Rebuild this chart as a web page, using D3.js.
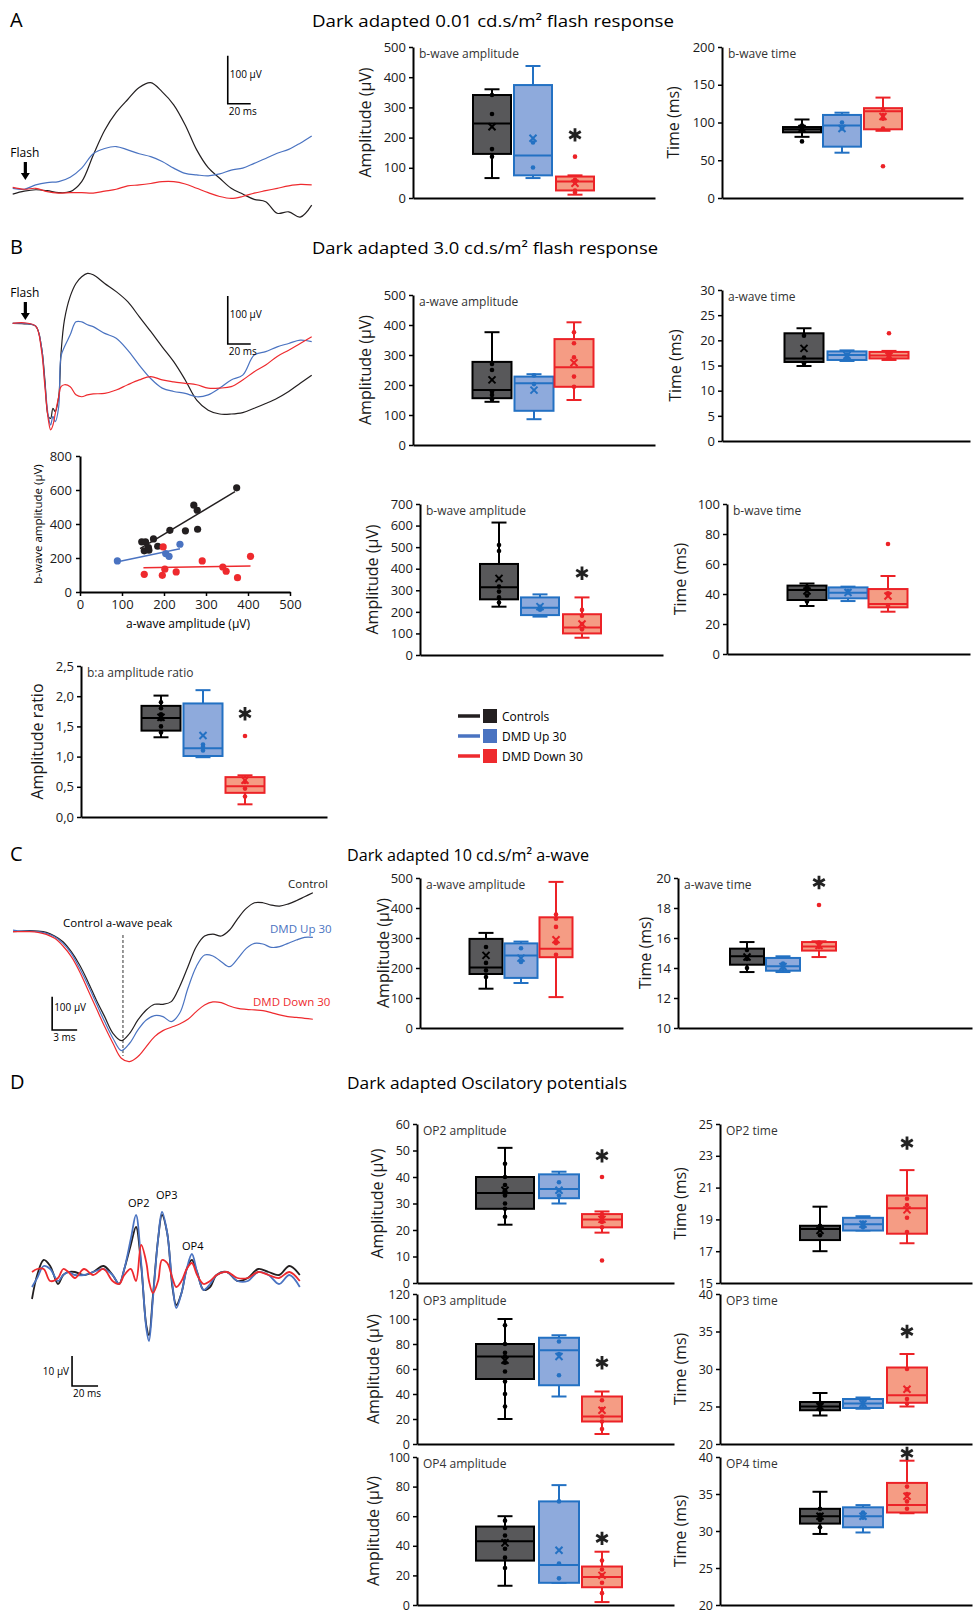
<!DOCTYPE html>
<html>
<head>
<meta charset="utf-8">
<script src="https://cdn.jsdelivr.net/npm/d3@7"></script>
<style>
  body { margin: 0; background: #fff; }
  text { font-family: 'Open Sans', sans-serif; }
</style>
</head>
<body>
<svg id="fig" width="973" height="1612"></svg>
<script>
// ---------- data ----------
const groups = ["Controls", "DMD Up 30", "DMD Down 30"];

// A: 0.01 cd.s/m2 traces (ms, µV)
const aTime = [0,10,20,30,40,50,60,70,80,90,100,110,120,130,140,150,160,170,180,190,200,210,220,230,240,250,260];
const aCtrl = [-12,-6,-3,-5,-9,-7,14,69,121,158,185,210,220,201,174,132,80,43,21,0,-12,-23,-28,-52,-49,-60,-35];
const aUp   = [0,-2,7,12,14,23,42,72,83,87,80,72,66,56,42,31,28,26,30,38,42,52,62,73,81,94,109];
const aDown = [2,-2,0,-7,-10,-9,-9,-10,-6,-2,5,7,10,14,14,9,0,-9,-17,-21,-17,-10,-5,0,5,8,7];

// B: 3.0 cd.s/m2 traces (ms, µV)
const bTime = [0,10,20,25,28,31,33,35,37,40,42,45,50,55,60,65,70,80,90,100,110,120,130,140,150,160,170,180,190,200,210,220,230,240,250,260];
const bCtrl = [0,-1,-6,-49,-118,-194,-198,-177,-184,-153,-63,7,56,83,97,104,101,83,66,45,14,-17,-49,-80,-118,-160,-181,-189,-189,-186,-177,-167,-156,-142,-125,-108];
const bUp   = [0,0,-6,-49,-125,-194,-212,-194,-205,-174,-69,-49,-24,3,3,-3,-7,-21,-31,-56,-87,-115,-135,-142,-146,-153,-149,-135,-118,-108,-66,-59,-49,-42,-35,-38];
const bDown = [0,1,-6,-56,-132,-201,-222,-212,-188,-153,-132,-128,-132,-149,-153,-149,-147,-146,-139,-128,-118,-111,-118,-122,-125,-128,-135,-135,-132,-118,-101,-87,-69,-56,-42,-28];

// C: 10 cd.s/m2 a-wave traces (ms, µV)
const cTime = [0,1,2,3,4,5,6,7,8,9,10,11,12,13,14,15,16,17,18,19,20,21,22,23,24,25,26,27,28,29,30,31,32,33,34,35,36];
const cCtrl = [0,2,3,2,-2,-13,-30,-60,-100,-150,-205,-255,-305,-327,-305,-265,-235,-218,-218,-210,-165,-105,-45,-13,-7,-13,5,40,70,87,87,80,77,83,93,105,117];
const cUp   = [5,2,2,0,-5,-15,-35,-65,-110,-160,-215,-270,-320,-357,-335,-295,-265,-252,-255,-270,-245,-170,-105,-70,-73,-90,-105,-80,-50,-35,-37,-47,-45,-35,-25,-17,-17];
const cDown = [0,0,0,-2,-8,-20,-43,-75,-120,-175,-230,-285,-335,-380,-390,-375,-345,-315,-297,-287,-277,-263,-240,-220,-211,-213,-223,-230,-233,-235,-237,-243,-250,-255,-257,-260,-263];
const cPeakTime = 13.2;

// D: oscillatory potentials (ms, µV)
const dTime = [0,4,9,14,20,24,28,33,40,47,55,62,67,71,76,80,84,88,90,93,97,100,104,108,111,115,119,123,127,132,137,142,150,158,166,174,182,190,198,206];
const dCtrl = [-8,0,5,3,-3,0,1,1,0,1,3,0,-3,2,10,16,3,-17,-20,-7,12,20,14,-4,-10,-6,2,5,1,-5,-4,0,1,-2,-1,2,1,0,3,0];
const dUp   = [-4,-1,3,2,-2,0,1,0,0,1,2,0,-3,2,12,20,4,-18,-22,-8,12,21,14,-3,-11,-6,2,7,1,-5,-3,0,1,-2,-2,1,0,-3,0,-4];
const dDown = [1,2,2,-2,-1,2,1,-1,2,0,2,-2,-3,0,2,-2,10,4,-2,-6,-2,5,4,-1,-4,-2,2,4,0,-3,-2,0,1,-1,-1,1,0,-1,1,-2];

// box stats per group: [min, q1, median, q3, max]
const aAmpBox = [[66,146,247,341,360],[66,75,141,374,437],[11,25,55,71,75]];
const aAmpMean = [236,198,49];
const aAmpPts = [[341,278,162,137],[184,101],[60,52,25,18]];
const aAmpOut = [[],[],[137]];
const aAmpTicks = [0,100,200,300,400,500];

const aTimeBox = [[81,87,91,94,104],[60,68,96,110,113],[89,91,115,119,133]];
const aTimeMean = [92,92,108];
const aTimePts = [[96,93,90],[100,92],[117,110,105,92]];
const aTimeOut = [[75],[],[42]];
const aTimeTicks = [0,50,100,150,200];

const bAAmpBox = [[144,156,183,277,376],[86,114,206,228,236],[150,194,259,353,409]];
const bAAmpMean = [217,183,274];
const bAAmpPts = [[270,250,178,167,152],[232,203],[376,339,292,228,194]];
const bAAmpOut = [[],[],[]];

const bATimeBox = [[14.9,15.7,16.4,21.4,22.4],[15.9,16.1,17.1,17.8,18.0],[16.1,16.4,17.0,17.7,17.9]];
const bATimeMean = [18.4,17.0,16.9];
const bATimePts = [[20.9,16.6,15.4],[17.2,16.6],[17.4,16.8]];
const bATimeOut = [[],[],[21.4]];
const bATimeTicks = [0,5,10,15,20,25,30];

const bBAmpBox = [[224,258,314,422,614],[178,185,219,267,281],[80,100,128,189,267]];
const bBAmpMean = [355,224,144];
const bBAmpPts = [[510,482,317,294,267,243],[224,210],[209,182,144,119]];
const bBAmpOut = [[],[],[]];
const bBAmpTicks = [0,100,200,300,400,500,600,700];

const bBTimeBox = [[32,36,42.7,45.6,47],[35.3,37.1,40.9,44.4,44.9],[28.2,31.1,33.3,43.3,52]];
const bBTimeMean = [42,41,38.7];
const bBTimePts = [[45,43.8,39,35],[42,41],[40.4,32]];
const bBTimeOut = [[],[],[73.3]];
const bBTimeTicks = [0,20,40,60,80,100];

const ratioBox = [[1.32,1.43,1.64,1.84,2.01],[0.99,1.01,1.14,1.88,2.10],[0.21,0.40,0.51,0.66,0.69]];
const ratioMean = [1.65,1.35,0.61];
const ratioPts = [[1.9,1.8,1.7,1.62,1.5,1.4],[1.2,1.16,1.1],[0.58,0.47,0.34]];
const ratioOut = [[],[],[1.34]];
const ratioTicks = [0,0.5,1,1.5,2,2.5];

const cAmpBox = [[131,180,202,297,317],[150,167,242,282,288],[103,236,264,369,487]];
const cAmpMean = [242,233,294];
const cAmpPts = [[270,217,192,170],[266,220],[378,364,337,283,244]];
const cAmpOut = [[],[],[]];

const cTimeBox = [[13.73,14.22,14.78,15.29,15.73],[13.73,13.82,14.11,14.67,14.78],[14.73,15.16,15.44,15.73,15.78]];
const cTimeMean = [14.73,14.1,15.5];
const cTimePts = [[15.2,14.6,14.0],[14.3,14.0],[15.7,15.4]];
const cTimeOut = [[],[],[18.2]];
const cTimeTicks = [10,12,14,16,18,20];

const op2AmpBox = [[22,28,34,40,51],[30,32,35.5,41,42],[19,21,24,26,27]];
const op2AmpMean = [35,35,24];
const op2AmpPts = [[45,40,37,35,33,30,28,25],[38,35,33],[26,25,23,21]];
const op2AmpOut = [[],[],[40,8.5]];
const op2AmpTicks = [0,10,20,30,40,50,60];

const op2TimeBox = [[17.0,17.7,18.4,18.6,19.8],[18.3,18.3,18.7,19.1,19.2],[17.5,18.1,19.7,20.5,22.1]];
const op2TimeMean = [18.3,18.7,19.6];
const op2TimePts = [[18.6,18.4,18.0],[18.8,18.5],[20.3,19.9,19.1,18.2]];
const op2TimeOut = [[],[],[]];
const op2TimeTicks = [15,17,19,21,23,25];

const op3AmpBox = [[20,52,70,80,100],[38,47,75,85,87],[8,18,22,38,42]];
const op3AmpMean = [67,70,27];
const op3AmpPts = [[95,80,73,70,65,58,50,40,30],[82,72,55],[35,28,22,18,12]];
const op3AmpOut = [[],[],[]];
const op3AmpTicks = [0,20,40,60,80,100,120];

const op3TimeBox = [[23.8,24.5,25,25.6,26.8],[24.7,24.8,25.4,26.0,26.2],[25.0,25.5,26.5,30.2,32]];
const op3TimeMean = [25,25.4,27.3];
const op3TimePts = [[25.5,25.0,24.6],[25.6,25.2],[30,27.3,26,25.4]];
const op3TimeOut = [[],[],[]];
const opTimeTicks = [20,25,30,35,40];

const op4AmpBox = [[13,30,43,53,60],[15,15,27,70,81],[2,12,19,26,36]];
const op4AmpMean = [42,37,20];
const op4AmpPts = [[57,52,47,43,38,32,25],[70,28,18],[30,24,20,15,8]];
const op4AmpOut = [[],[],[]];
const op4AmpTicks = [0,20,40,60,80,100];

const op4TimeBox = [[29.6,31,32,33,35.3],[29.8,30.5,32,33.2,33.5],[32.4,32.5,33.5,36.5,39.5]];
const op4TimeMean = [32,32,34.7];
const op4TimePts = [[33,32.2,31.5,30.5],[32.5,31.8],[36,35,34,33]];
const op4TimeOut = [[],[],[]];

// scatter: [a-wave, b-wave] µV
const scCtrl = [[147,295],[156,295],[153,242],[164,246],[175,312],[185,269],[214,363],[251,360],[271,511],[279,481],[280,369],[373,613],[163,261]];
const scUp   = [[89,183],[204,226],[212,210],[238,281]];
const scDown = [[153,104],[198,265],[202,134],[196,98],[229,118],[291,183],[340,147],[348,122],[375,84],[406,210]];
const fitCtrl = [[143,255],[369,590]];
const fitUp   = [[87,177],[238,255]];
const fitDown = [[151,143],[406,153]];
const scTicksX = [0,100,200,300,400,500];
const scTicksY = [0,200,400,600,800];

// ---------- styles ----------
const lineCol = ["#231f20", "#4a73c1", "#ee2a2e"];
const boxFill = ["#58585a", "#8eaadc", "#f59c84"];
const boxLine = ["#000000", "#2371c3", "#ec2227"];
const FONT = "'Open Sans', sans-serif";

const svg = d3.select("#fig");

function styleAxis(a, fs) {
  a.select(".domain").attr("stroke", "#000").attr("stroke-width", 2);
  a.selectAll(".tick line").attr("stroke", "#000").attr("stroke-width", 1.5);
  a.selectAll(".tick text").attr("font-family", FONT).attr("font-size", fs || 13).attr("fill", "#1a1a1a");
}

function boxChart(c) {
  const g = svg.append("g");
  const y = d3.scaleLinear().domain([c.ticks[0], c.ticks[c.ticks.length - 1]]).range([c.yb, c.yt]);
  const xr = d3.scaleLinear().domain([0, 1]).range([c.ax, c.ar]);
  const xc = d3.scaleOrdinal(groups, c.cx);
  const bw = Array.isArray(c.bw) ? c.bw : [c.bw, c.bw, c.bw];

  const yax = g.append("g").attr("transform", `translate(${c.ax},0)`)
    .call(d3.axisLeft(y).tickValues(c.ticks).tickSize(4).tickSizeOuter(0).tickPadding(3).tickFormat(c.fmt || d3.format("d")));
  styleAxis(yax, c.fs);
  const xax = g.append("g").attr("transform", `translate(0,${c.yb})`)
    .call(d3.axisBottom(xr).tickValues([]).tickSizeOuter(0));
  styleAxis(xax);

  g.append("text")
    .attr("transform", `translate(${c.ax - c.lo + 6},${(c.yt + c.yb) / 2}) rotate(-90)`)
    .attr("text-anchor", "middle").attr("font-size", 16).attr("fill", "#1a1a1a")
    .text(c.ylab);
  g.append("text").attr("x", c.ax + 6).attr("y", c.yt + 11)
    .attr("font-size", 12).attr("fill", "#333").text(c.title);

  c.box.forEach((s, i) => {
    const cx = xc(groups[i]), w = bw[i], cap = 15;
    const bg = g.append("g").attr("stroke", boxLine[i]).attr("stroke-width", 2);
    bg.append("line").attr("x1", cx).attr("x2", cx).attr("y1", y(s[0])).attr("y2", y(s[4]));
    [s[0], s[4]].forEach(v => bg.append("line")
      .attr("x1", cx - cap / 2).attr("x2", cx + cap / 2).attr("y1", y(v)).attr("y2", y(v)));
    bg.append("rect").attr("x", cx - w / 2).attr("y", y(s[3]))
      .attr("width", w).attr("height", Math.max(1, y(s[1]) - y(s[3])))
      .attr("fill", boxFill[i]);
    bg.append("line").attr("x1", cx - w / 2).attr("x2", cx + w / 2)
      .attr("y1", y(s[2])).attr("y2", y(s[2]));

    g.selectAll(null).data(c.pts[i].concat(c.out[i])).join("circle")
      .attr("cx", cx).attr("cy", d => y(d)).attr("r", 2.3)
      .attr("fill", boxLine[i]);
    g.append("path")
      .attr("d", d3.symbol(d3.symbolX || d3.symbolCross, 34)())
      .attr("transform", `translate(${cx},${y(c.mean[i])})`)
      .attr("fill", "none").attr("stroke", boxLine[i]).attr("stroke-width", 2);
  });

  if (c.star != null) {
    g.append("path")
      .attr("d", d3.symbol(d3.symbolAsterisk || d3.symbolCross, 125)())
      .attr("transform", `translate(${xc(groups[2])},${y(c.star)})`)
      .attr("fill", "none").attr("stroke", "#222").attr("stroke-width", 2.8);
  }
}

function traces(times, series, xs, ys, sw) {
  const line = d3.line().x((d, i) => xs(times[i])).y(d => ys(d)).curve(d3.curveCatmullRom.alpha(0.5));
  series.forEach((s, i) => {
    svg.append("path").datum(s).attr("d", line)
      .attr("fill", "none").attr("stroke", lineCol[i]).attr("stroke-width", sw)
      .attr("stroke-linejoin", "round");
  });
}

function scaleBar(xs, ys, t0, v0, dt, dv, vLab, tLab, leftLabel) {
  const g = svg.append("g");
  g.append("path")
    .attr("d", `M${xs(t0)},${ys(v0 + dv)}V${ys(v0)}H${xs(t0 + dt)}`)
    .attr("fill", "none").attr("stroke", "#000").attr("stroke-width", 1.6);
  if (leftLabel) {
    g.append("text").attr("x", xs(t0) - 3).attr("y", (ys(v0) + ys(v0 + dv)) / 2 + 4)
      .attr("text-anchor", "end").attr("font-size", 10).text(vLab);
  } else {
    g.append("text").attr("x", xs(t0) + 2).attr("y", ys(v0 + dv * 0.5) - 2)
      .attr("font-size", 10).text(vLab);
  }
  g.append("text").attr("x", xs(t0) + 1).attr("y", ys(v0) + 11)
    .attr("font-size", 10).text(tLab);
}

function flash(x, y) {
  svg.append("text").attr("x", x - 15).attr("y", y).attr("font-size", 12).text("Flash");
  svg.append("path")
    .attr("d", `M${x - 1.6},${y + 5}V${y + 16}H${x - 4.5}L${x},${y + 23}L${x + 4.5},${y + 16}H${x + 1.6}V${y + 5}Z`)
    .attr("fill", "#000");
}

function header(letter, title, y, tx, tl) {
  svg.append("text").attr("x", 10).attr("y", y).attr("font-size", 20).text(letter);
  svg.append("text").attr("x", tx).attr("y", y).attr("font-size", 17)
    .attr("textLength", tl).attr("lengthAdjust", "spacingAndGlyphs").text(title);
}

// ---------- headers ----------
header("A", "Dark adapted 0.01 cd.s/m² flash response", 27, 312, 362);
header("B", "Dark adapted 3.0 cd.s/m² flash response", 254, 312, 346);
header("C", "Dark adapted 10 cd.s/m² a-wave", 861, 347, 242);
header("D", "Dark adapted Oscilatory potentials", 1089, 347, 280);

// ---------- A traces ----------
{
  const xs = d3.scaleLinear().domain([0, 260]).range([12.7, 311.7]);
  const ys = d3.scaleLinear().domain([0, 100]).range([188.3, 140.3]);
  traces(aTime, [aCtrl, aUp, aDown], xs, ys, 1.2);
  scaleBar(xs, ys, 187, 176, 20, 100, "100 µV", "20 ms");
  flash(xs(11), 157);
}
// ---------- B traces ----------
{
  const xs = d3.scaleLinear().domain([0, 260]).range([12.7, 311.7]);
  const ys = d3.scaleLinear().domain([0, 100]).range([323.3, 275.3]);
  traces(bTime, [bCtrl, bUp, bDown], xs, ys, 1.2);
  scaleBar(xs, ys, 187, -43, 20, 100, "100 µV", "20 ms");
  flash(xs(11), 297);
}
// ---------- C traces ----------
{
  const xs = d3.scaleLinear().domain([0, 36]).range([13, 13 + 36 * 8.33]);
  const ys = d3.scaleLinear().domain([0, 100]).range([931.7, 898.4]);
  svg.append("line").attr("x1", xs(cPeakTime)).attr("x2", xs(cPeakTime))
    .attr("y1", 935).attr("y2", 1056).attr("stroke", "#555").attr("stroke-width", 1.2)
    .attr("stroke-dasharray", "3,2");
  traces(cTime, [cCtrl, cUp, cDown], xs, ys, 1.2);
  scaleBar(xs, ys, 4.7, -295, 3, 100, "100 µV", "3 ms");
  svg.append("text").attr("x", 63).attr("y", 927).attr("font-size", 11.5).text("Control a-wave peak");
  svg.append("text").attr("x", 288).attr("y", 888).attr("font-size", 11.5).attr("fill", lineCol[0]).text("Control");
  svg.append("text").attr("x", 270).attr("y", 933).attr("font-size", 11.5).attr("fill", lineCol[1]).text("DMD Up 30");
  svg.append("text").attr("x", 253).attr("y", 1006).attr("font-size", 11.5).attr("fill", lineCol[2]).text("DMD Down 30");
}
// ---------- D traces ----------
{
  const xs = d3.scaleLinear().domain([0, 206]).range([32, 32 + 206 * 1.3]);
  const ys = d3.scaleLinear().domain([0, 10]).range([1275, 1245]);
  traces(dTime, [dCtrl, dUp, dDown], xs, ys, 1.8);
  scaleBar(xs, ys, 30.8, -37, 20, 10, "10 µV", "20 ms", true);
  svg.append("text").attr("x", 128).attr("y", 1207).attr("font-size", 11).text("OP2");
  svg.append("text").attr("x", 156).attr("y", 1199).attr("font-size", 11).text("OP3");
  svg.append("text").attr("x", 182).attr("y", 1250).attr("font-size", 11).text("OP4");
}

// ---------- scatter ----------
{
  const g = svg.append("g");
  const x = d3.scaleLinear().domain([0, 500]).range([80, 290]);
  const y = d3.scaleLinear().domain([0, 800]).range([592, 456]);
  const ya = g.append("g").attr("transform", "translate(80,0)")
    .call(d3.axisLeft(y).tickValues(scTicksY).tickSize(4).tickSizeOuter(0).tickPadding(4));
  styleAxis(ya, 13);
  const xa = g.append("g").attr("transform", "translate(0,592)")
    .call(d3.axisBottom(x).tickValues(scTicksX).tickSize(4).tickSizeOuter(0).tickPadding(4));
  styleAxis(xa, 13);
  g.append("text").attr("transform", "translate(42,524) rotate(-90)")
    .attr("text-anchor", "middle").attr("font-size", 11.5).text("b-wave amplitude (µV)");
  g.append("text").attr("x", 188).attr("y", 628).attr("text-anchor", "middle")
    .attr("font-size", 12).text("a-wave amplitude (µV)");
  [scCtrl, scUp, scDown].forEach((pts, i) => {
    g.selectAll(null).data(pts).join("circle")
      .attr("cx", d => x(d[0])).attr("cy", d => y(d[1])).attr("r", 3.6).attr("fill", lineCol[i]);
  });
  [fitCtrl, fitUp, fitDown].forEach((f, i) => {
    g.append("path").datum(f).attr("d", d3.line().x(d => x(d[0])).y(d => y(d[1])))
      .attr("stroke", lineCol[i]).attr("stroke-width", 1.5).attr("fill", "none");
  });
}

// ---------- legend ----------
{
  const ly = d3.scalePoint(groups, [716, 756]);
  groups.forEach((name, i) => {
    const yy = ly(name);
    svg.append("line").attr("x1", 458).attr("x2", 480).attr("y1", yy).attr("y2", yy)
      .attr("stroke", lineCol[i]).attr("stroke-width", 3.5);
    svg.append("rect").attr("x", 483).attr("y", yy - 7).attr("width", 14).attr("height", 14)
      .attr("fill", lineCol[i]);
    svg.append("text").attr("x", 502).attr("y", yy + 4.5).attr("font-size", 12).text(name);
  });
}

// ---------- box plots ----------
const commaFmt = d => d3.format(".1f")(d).replace(".", ",");
const dAmpW = [58, 40, 40];
const charts = [
  {box: aAmpBox, mean: aAmpMean, pts: aAmpPts, out: aAmpOut, star: 209, ticks: aAmpTicks,
   ax: 413, ar: 655, yt: 47, yb: 198, cx: [492, 533, 575], bw: 38, lo: 48, ylab: "Amplitude (µV)", title: "b-wave amplitude"},
  {box: aTimeBox, mean: aTimeMean, pts: aTimePts, out: aTimeOut, star: null, ticks: aTimeTicks,
   ax: 722, ar: 963, yt: 47, yb: 198, cx: [802, 842, 883], bw: 38, lo: 49, ylab: "Time (ms)", title: "b-wave time"},
  {box: bAAmpBox, mean: bAAmpMean, pts: bAAmpPts, out: bAAmpOut, star: null, ticks: aAmpTicks,
   ax: 413, ar: 655, yt: 295, yb: 445, cx: [492, 534, 574], bw: 39, lo: 48, ylab: "Amplitude (µV)", title: "a-wave amplitude"},
  {box: bATimeBox, mean: bATimeMean, pts: bATimePts, out: bATimeOut, star: null, ticks: bATimeTicks,
   ax: 722, ar: 970, yt: 290, yb: 441, cx: [804, 847, 889], bw: 39, lo: 47, ylab: "Time (ms)", title: "a-wave time"},
  {box: bBAmpBox, mean: bBAmpMean, pts: bBAmpPts, out: bBAmpOut, star: 379, ticks: bBAmpTicks,
   ax: 420, ar: 663, yt: 504, yb: 655, cx: [499, 540, 582], bw: 38, lo: 48, ylab: "Amplitude (µV)", title: "b-wave amplitude"},
  {box: bBTimeBox, mean: bBTimeMean, pts: bBTimePts, out: bBTimeOut, star: null, ticks: bBTimeTicks,
   ax: 727, ar: 970, yt: 504, yb: 654, cx: [807, 848, 888], bw: 39, lo: 47, ylab: "Time (ms)", title: "b-wave time"},
  {box: ratioBox, mean: ratioMean, pts: ratioPts, out: ratioOut, star: 1.71, ticks: ratioTicks, fmt: commaFmt,
   ax: 81, ar: 327, yt: 666, yb: 817, cx: [161, 203, 245], bw: 39, lo: 44, ylab: "Amplitude ratio", title: "b:a amplitude ratio"},
  {box: cAmpBox, mean: cAmpMean, pts: cAmpPts, out: cAmpOut, star: null, ticks: aAmpTicks,
   ax: 420, ar: 623, yt: 878, yb: 1028, cx: [486, 521, 556], bw: 33, lo: 37, ylab: "Amplitude (µV)", title: "a-wave amplitude"},
  {box: cTimeBox, mean: cTimeMean, pts: cTimePts, out: cTimeOut, star: 19.7, ticks: cTimeTicks,
   ax: 678, ar: 972, yt: 878, yb: 1028, cx: [747, 783, 819], bw: 34, lo: 33, ylab: "Time (ms)", title: "a-wave time"},
  {box: op2AmpBox, mean: op2AmpMean, pts: op2AmpPts, out: op2AmpOut, star: 48, ticks: op2AmpTicks, fs: 12.5,
   ax: 417, ar: 674, yt: 1124, yb: 1283, cx: [505, 559, 602], bw: dAmpW, lo: 40, ylab: "Amplitude (µV)", title: "OP2 amplitude"},
  {box: op2TimeBox, mean: op2TimeMean, pts: op2TimePts, out: op2TimeOut, star: 23.8, ticks: op2TimeTicks, fs: 12.5,
   ax: 720, ar: 972, yt: 1124, yb: 1283, cx: [820, 863, 907], bw: 40, lo: 40, ylab: "Time (ms)", title: "OP2 time"},
  {box: op3AmpBox, mean: op3AmpMean, pts: op3AmpPts, out: op3AmpOut, star: 65, ticks: op3AmpTicks, fs: 12.5,
   ax: 417, ar: 674, yt: 1294, yb: 1444, cx: [505, 559, 602], bw: dAmpW, lo: 44, ylab: "Amplitude (µV)", title: "OP3 amplitude"},
  {box: op3TimeBox, mean: op3TimeMean, pts: op3TimePts, out: op3TimeOut, star: 35, ticks: opTimeTicks, fs: 12.5,
   ax: 720, ar: 972, yt: 1294, yb: 1444, cx: [820, 863, 907], bw: 40, lo: 40, ylab: "Time (ms)", title: "OP3 time"},
  {box: op4AmpBox, mean: op4AmpMean, pts: op4AmpPts, out: op4AmpOut, star: 45, ticks: op4AmpTicks, fs: 12.5,
   ax: 417, ar: 674, yt: 1457, yb: 1605, cx: [505, 559, 602], bw: dAmpW, lo: 44, ylab: "Amplitude (µV)", title: "OP4 amplitude"},
  {box: op4TimeBox, mean: op4TimeMean, pts: op4TimePts, out: op4TimeOut, star: 40.5, ticks: opTimeTicks, fs: 12.5,
   ax: 720, ar: 972, yt: 1457, yb: 1605, cx: [820, 863, 907], bw: 40, lo: 40, ylab: "Time (ms)", title: "OP4 time"}
];
charts.forEach(boxChart);
</script>
</body>
</html>
